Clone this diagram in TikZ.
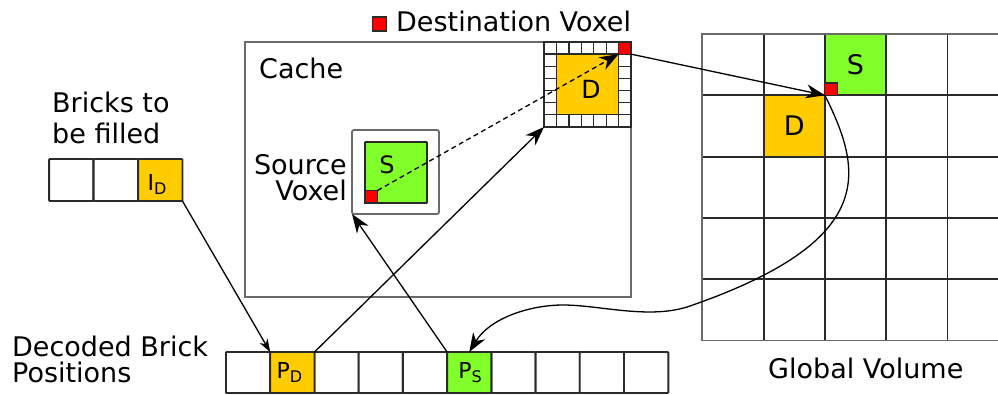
\documentclass[tikz,border=0pt]{standalone}
\usepackage{fontspec}
\setmainfont{DejaVu Sans}
\usetikzlibrary{arrows.meta}
\definecolor{bo}{HTML}{FFCC00}
\definecolor{bg}{HTML}{80FF2A}
\definecolor{br}{HTML}{FF0000}
\definecolor{edge}{HTML}{2A2A2A}
\definecolor{boxgray}{HTML}{6A6A6A}
\begin{document}
\begin{tikzpicture}[x=1pt,y=-1pt,
  cell/.style={draw=edge, line width=1.9pt, fill=white, inner sep=0pt, outer sep=0pt,
    minimum width=44.3pt, minimum height=41pt, rounded corners=0.8pt},
  sq/.style={draw=edge, inner sep=0pt, outer sep=0pt, anchor=north west},
  lbl/.style={font=\fontsize{27}{32}\selectfont, inner sep=0pt},
  sub/.style={font=\fontsize{22}{26}\selectfont, inner sep=0pt, anchor=base},
  conn/.style={line width=1.3pt, black},
  bigarr/.style={conn, -{Stealth[length=19pt,width=14pt,inset=6pt]}},
  smallarr/.style={conn, -{Stealth[length=13pt,width=9pt,inset=4pt]}}]
\useasboundingbox (0,0) rectangle (998,394);
\clip (0,0) rectangle (998,394);

% ---------- legend ----------
\node[sq, fill=br, line width=1.1pt, minimum width=14pt, minimum height=14pt] (legred) at (372.5,17) {};
\node[lbl, anchor=base west] (legtxt) at (396,31.5) {Destination Voxel};

% ---------- cache ----------
\node[draw=boxgray, line width=1.8pt, minimum width=386pt, minimum height=255pt,
      inner sep=0pt, outer sep=0pt, anchor=north west] (cache) at (245,42) {};
\node[lbl, anchor=base west] (cachetxt) at (259,78) {Cache};

% cached destination brick with border
\node[sq, fill=white, line width=1.8pt, minimum width=87pt, minimum height=85pt] (cbrick) at (544,42) {};
\foreach \i in {1,...,6} {
  \draw[edge, line width=1.3pt] (544+\i*12.43,42) -- (544+\i*12.43,127);
  \draw[edge, line width=1.3pt] (544,42+\i*12.14) -- (631,42+\i*12.14);
}
\node[sq, fill=bo, line width=1.3pt, minimum width=62.15pt, minimum height=60.7pt] (cinner) at (556.43,54.14) {};
\node[sq, draw=edge, line width=1.9pt, minimum width=87pt, minimum height=85pt] (cframe) at (544,42) {};
\node[lbl, font=\fontsize{25}{30}\selectfont] (cD) at (591,89) {D};
\node[sq, fill=br, line width=1.1pt, minimum width=12.43pt, minimum height=12.14pt] (cred) at (618.57,42) {};

% source brick
\node[sq, draw=boxgray, fill=white, line width=1.8pt, rounded corners=2pt,
      minimum width=87pt, minimum height=84pt] (srcbox) at (352,130) {};
\node[sq, fill=bg, line width=1.9pt, rounded corners=0.8pt, minimum width=62pt, minimum height=61pt] (sgreen) at (365,142) {};
\node[lbl, font=\fontsize{24}{28}\selectfont] (sS) at (387,165) {S};
\node[sq, fill=br, line width=1.5pt, minimum width=12.5pt, minimum height=12.5pt] (sred) at (365,190.5) {};
\node[lbl, anchor=base east] (srctxt1) at (347,174) {Source};
\node[lbl, anchor=base east] (srctxt2) at (347,200) {Voxel};

% ---------- bricks to be filled ----------
\node[lbl, anchor=base west] (btxt1) at (52,112) {Bricks to};
\node[lbl, anchor=base west] (btxt2) at (52,143) {be filled};
\node[cell, minimum height=42pt] (f1) at (71.2,180) {};
\node[cell, minimum height=42pt] (f2) at (115.8,180) {};
\node[cell, minimum height=42pt, fill=bo] (ID) at (160.3,180) {};
\node[sub] (IDt) at (157,190) {I\raisebox{-4pt}{\fontsize{16}{18}\selectfont D}};

% ---------- decoded brick positions ----------
\node[lbl, anchor=base west] (dtxt1) at (12,356) {Decoded Brick};
\node[lbl, anchor=base west] (dtxt2) at (12,382) {Positions};
\foreach \i in {0,...,9} {
  \node[cell] (d\i) at (248.1+\i*44.23,372.5) {};
}
\node[cell, fill=bo] (PD) at (248.1+1*44.23,372.5) {};
\node[cell, fill=bg] (PS) at (248.1+5*44.23,372.5) {};
\node[sub] (PDt) at (289.5,378) {P\raisebox{-4.5pt}{\fontsize{16}{18}\selectfont D}};
\node[sub] (PSt) at (470,378) {P\raisebox{-4.5pt}{\fontsize{16}{18}\selectfont S}};

% ---------- global volume ----------
\node[sq, draw=none, fill=bg, minimum width=61.3pt, minimum height=61.3pt] (gS) at (824.9,34) {};
\node[sq, draw=none, fill=bo, minimum width=61.3pt, minimum height=61.3pt] (gD) at (763.6,95.3) {};
\foreach \i in {1,...,4} {
  \draw[edge, line width=1.8pt] (702.3+\i*61.3,34) -- (702.3+\i*61.3,340.5);
  \draw[edge, line width=1.8pt] (702.3,34+\i*61.3) -- (1010,34+\i*61.3);
}
\draw[boxgray, line width=1.8pt] (1010,34) -- (702.3,34) -- (702.3,340.5) -- (1010,340.5);
\node[lbl] (gSt) at (855.5,64.6) {S};
\node[lbl] (gDt) at (794.2,126) {D};
\node[sq, fill=br, line width=1.1pt, minimum width=12.4pt, minimum height=12.3pt] (gred) at (824.9,83) {};
\node[lbl, anchor=base west] (gtxt) at (768,378) {Global Volume};

% ---------- connectors ----------
\draw[smallarr] (ID.south east) -- (PD.north west);
\draw[bigarr] (PD.north east) -- (cbrick.south west);
\draw[bigarr] (PS.north west) -- (srcbox.south west);
\draw[conn, dash pattern=on 5pt off 3.5pt, -{Stealth[length=19pt,width=14pt,inset=6pt]}]
  (sred.north east) -- (cred.south west);
\draw[bigarr] (cred.south east) -- (gred.south west);
\coordinate (w1) at (690,306);
\coordinate (w2) at (563,305);
\draw[bigarr] (gred.south west) .. controls (862,170) and (880,240) .. (w1)
  .. controls (650,320) and (600,305) .. (w2)
  .. controls (530,305) and (490,318) .. (PS.north);
\end{tikzpicture}
\end{document}
